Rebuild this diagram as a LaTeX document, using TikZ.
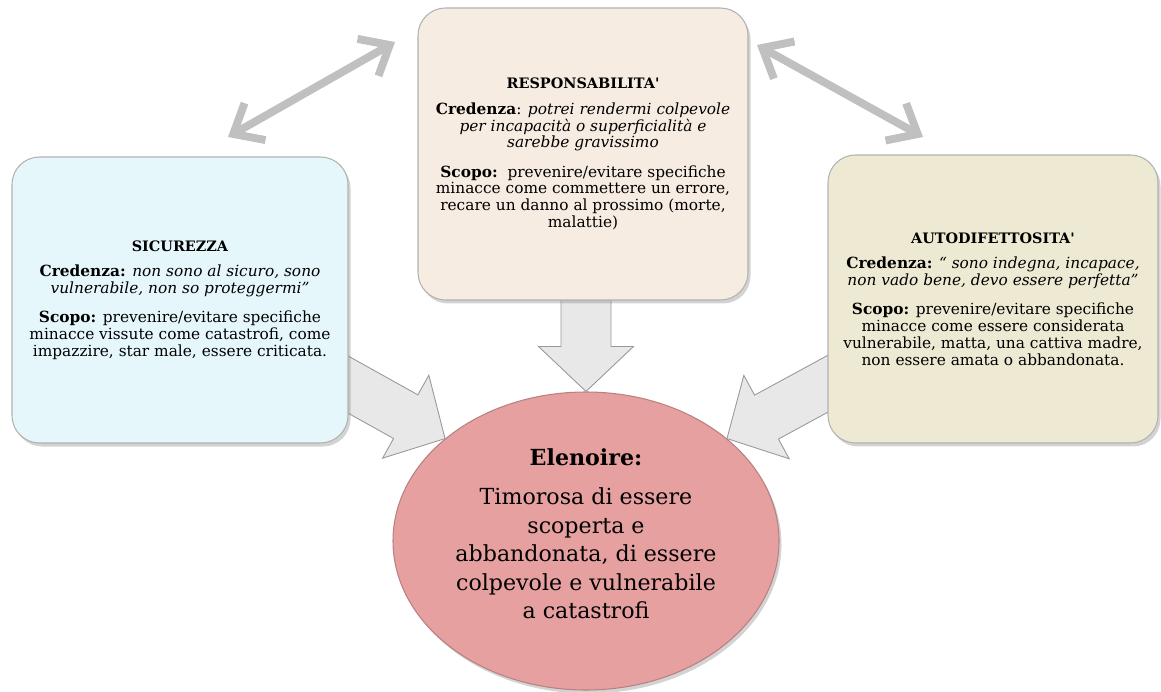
\documentclass[tikz,border=0pt]{standalone}
\usepackage{fontspec}
\setmainfont{DejaVu Serif}
\usepackage{xcolor}
\usepackage{tikz}
\usetikzlibrary{calc,shadows,arrows.meta,shapes.geometric}
\definecolor{sicfill}{RGB}{230,247,252}
\definecolor{respfill}{RGB}{246,236,226}
\definecolor{autofill}{RGB}{238,233,211}
\definecolor{ellfill}{RGB}{231,160,160}
\definecolor{linkgray}{RGB}{192,192,192}
\newcommand{\boxtitle}[1]{{\fontsize{8.2}{9.7}\selectfont\bfseries #1}}
\pgfdeclarelayer{back}
\pgfsetlayers{back,main}

\begin{document}
\begin{tikzpicture}[
  box/.style={draw=black!30, line width=0.6pt, rounded corners=0.55cm, align=center,
    font=\fontsize{8.75}{9.6}\selectfont,
    drop shadow={opacity=0.35, shadow xshift=0.05cm, shadow yshift=-0.07cm}},
  elli/.style={ellipse, draw=ellfill!80!black, line width=0.6pt, fill=ellfill, align=center,
    minimum width=7.72cm, minimum height=5.96cm, inner sep=0pt,
    font=\fontsize{12.6}{16.2}\selectfont,
    drop shadow={opacity=0.35, shadow xshift=0.05cm, shadow yshift=-0.07cm}},
  blockarrow/.style={fill=black!9, draw=black!40, line width=0.5pt, line join=miter},
  linkarrow/.style={draw=linkgray, line width=4.5pt, {Straight Barb[length=0.5cm,width=0.85cm]}-{Straight Barb[length=0.5cm,width=0.85cm]}}]
\useasboundingbox (0,0) rectangle (23.22,-13.84);
% the three beliefs
\node[box, fill=sicfill, minimum width=6.72cm, minimum height=5.72cm] (Sicurezza) at (03.60,-06.00)
  {\boxtitle{SICUREZZA}\\[5pt]
   \textbf{Credenza:} \textit{non sono al sicuro, sono}\\
   \textit{vulnerabile, non so proteggermi”}\\[7pt]
   \textbf{Scopo:} prevenire/evitare specifiche\\
   minacce vissute come catastrofi, come\\
   impazzire, star male, essere criticata.};
\node[box, fill=respfill, minimum width=6.60cm, minimum height=5.84cm] (Resp) at (11.66,-03.08)
  {\boxtitle{RESPONSABILITA\textquotesingle}\\[5pt]
   \textbf{Credenza}: \textit{potrei rendermi colpevole}\\
   \textit{per incapacità o superficialità e}\\
   \textit{sarebbe gravissimo}\\[7pt]
   \textbf{Scopo:}\ \ prevenire/evitare specifiche\\
   minacce come commettere un errore,\\
   recare un danno al prossimo (morte,\\
   malattie)};
\node[box, fill=autofill, minimum width=6.60cm, minimum height=5.76cm] (Autodif) at (19.86,-05.98)
  {\boxtitle{AUTODIFETTOSITA\textquotesingle}\\[5pt]
   \textbf{Credenza:} \textit{“ sono indegna, incapace,}\\
   \textit{non vado bene, devo essere perfetta”}\\[7pt]
   \textbf{Scopo:} prevenire/evitare specifiche\\
   minacce come essere considerata\\
   vulnerabile, matta, una cattiva madre,\\
   non essere amata o abbandonata.};
% links between the beliefs
\coordinate (LinkA) at (04.56,-02.74);
\coordinate (LinkB) at (07.90,-00.84);
\coordinate (LinkC) at (15.14,-00.90);
\coordinate (LinkD) at (18.46,-02.74);
\draw[linkarrow] (LinkA) -- (LinkB);
\draw[linkarrow] (LinkC) -- (LinkD);
\begin{pgfonlayer}{back}
\node[elli] (Elenoire) at (11.72,-10.82)
  {{\fontsize{12.6}{16}\selectfont\bfseries Elenoire:}\\[6pt]
   Timorosa di essere\\
   scoperta e\\
   abbandonata, di essere\\
   colpevole e vulnerabile\\
   a catastrofi\\[-8pt]\mbox{}};
\coordinate (SicA) at ([xshift=-0.64cm,yshift=-1.34cm]Sicurezza.east);
\coordinate (RespA) at ($(Resp.south -| Elenoire.north)+(0,0.3)$);
\coordinate (AutoA) at ([xshift=0.66cm,yshift=-1.34cm]Autodif.west);
\foreach \s/\t in {SicA/Elenoire.144, RespA/Elenoire.north, AutoA/Elenoire.36}{
  \coordinate (Head) at ($(\t)!0.9cm!(\s)$);
  \draw[blockarrow] ($(\s)!0.5cm!90:(\t)$) -- ($(Head)!0.5cm!90:(\t)$) -- ($(Head)!0.95cm!90:(\t)$)
    -- (\t) -- ($(Head)!0.95cm!-90:(\t)$) -- ($(Head)!0.5cm!-90:(\t)$) -- ($(\s)!0.5cm!-90:(\t)$) -- cycle;
}
\end{pgfonlayer}
\end{tikzpicture}
\end{document}
